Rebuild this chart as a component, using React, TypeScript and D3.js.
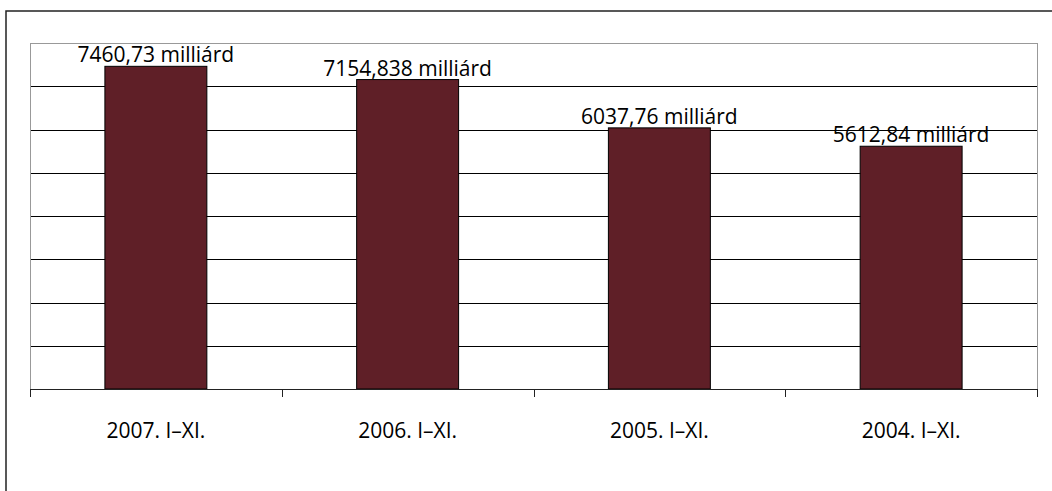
import React from "react";
import * as d3 from "d3";

const categories = ["2007. I–XI.", "2006. I–XI.", "2005. I–XI.", "2004. I–XI."];
const values = [7460.73, 7154.838, 6037.76, 5612.84];
const valueLabels = ["7460,73 milliárd", "7154,838 milliárd", "6037,76 milliárd", "5612,84 milliárd"];
const gridTicks = [0, 1000, 2000, 3000, 4000, 5000, 6000, 7000, 8000];

const W = 1052;
const H = 491;
const plot = { left: 30, right: 1037, top: 43, bottom: 389 };
const FONT = "'Open Sans', sans-serif";

export default function App() {
  const x = d3
    .scaleBand<string>()
    .domain(categories)
    .range([plot.left, plot.right])
    .paddingInner(0.595)
    .paddingOuter(0.2975);
  const xb = d3.scaleBand<string>().domain(categories).range([plot.left, plot.right]).padding(0);
  const y = d3.scaleLinear().domain([0, 8000]).range([plot.bottom, plot.top]);

  const tickXs = [plot.left, ...categories.map((c) => (xb(c) as number) + xb.bandwidth())];

  return (
    <svg
      width={W}
      height={H}
      style={{ position: "absolute", left: 0, top: 0, background: "#fff" }}
    >
      <rect x={6} y={11} width={1200} height={700} fill="#fff" stroke="#222" strokeWidth={1.5} />
      {gridTicks.slice(1, -1).map((t) => (
        <line key={t} x1={plot.left} x2={plot.right} y1={Math.round(y(t)) + 0.5} y2={Math.round(y(t)) + 0.5} stroke="#000" strokeWidth={1} />
      ))}
      <line x1={plot.left} x2={plot.right} y1={y(8000) + 0.5} y2={y(8000) + 0.5} stroke="#999" />
      <line x1={plot.left + 0.5} x2={plot.left + 0.5} y1={plot.top} y2={plot.bottom} stroke="#999" />
      <line x1={plot.right + 0.5} x2={plot.right + 0.5} y1={plot.top} y2={plot.bottom} stroke="#999" />
      {categories.map((c, i) => (
        <rect
          key={c}
          x={x(c)}
          y={y(values[i])}
          width={x.bandwidth()}
          height={plot.bottom - y(values[i])}
          fill="#5f1f27"
          stroke="#000"
          strokeWidth={1}
        />
      ))}
      <line x1={plot.left} x2={plot.right + 1} y1={plot.bottom + 0.5} y2={plot.bottom + 0.5} stroke="#222" />
      {tickXs.map((tx, i) => (
        <line key={i} x1={Math.round(tx) + 0.5} x2={Math.round(tx) + 0.5} y1={plot.bottom} y2={plot.bottom + 8} stroke="#222" />
      ))}
      {categories.map((c, i) => (
        <text
          key={c + "v"}
          x={(x(c) as number) + x.bandwidth() / 2}
          y={y(values[i]) - 4}
          textAnchor="middle"
          fontFamily={FONT}
          fontSize={21}
          fill="#000"
        >
          {valueLabels[i]}
        </text>
      ))}
      {categories.map((c) => (
        <text
          key={c + "l"}
          x={(xb(c) as number) + xb.bandwidth() / 2}
          y={438}
          textAnchor="middle"
          fontFamily={FONT}
          fontSize={21}
          fill="#000"
        >
          {c}
        </text>
      ))}
    </svg>
  );
}
